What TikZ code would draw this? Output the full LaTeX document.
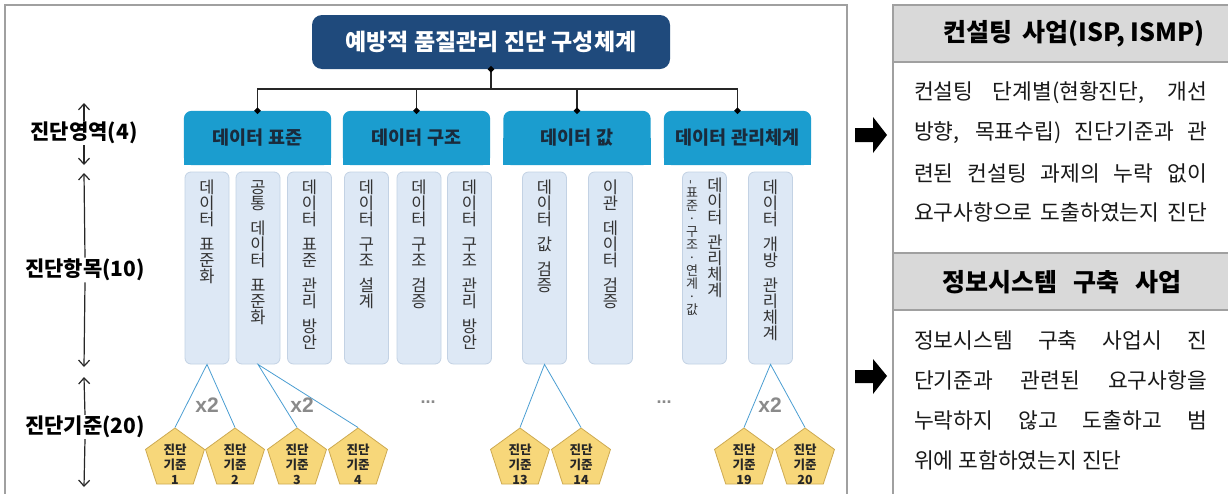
\documentclass[tikz,border=0pt]{standalone}
\usepackage{fontspec}
\setmainfont{Noto Sans CJK KR}
\newfontfamily\arialfont{Liberation Sans}
\usetikzlibrary{shapes.geometric,backgrounds,arrows.meta}
\definecolor{navy}{HTML}{1F4A7C}
\definecolor{catblue}{HTML}{1B9DCF}
\definecolor{cattext}{HTML}{1A2B3C}
\definecolor{itemfill}{HTML}{DDE8F5}
\definecolor{itemdraw}{HTML}{C3D2E4}
\definecolor{penta}{HTML}{F7D77A}
\definecolor{pentadraw}{HTML}{CDAA52}
\definecolor{linkblue}{HTML}{4A9ED2}
\definecolor{framegray}{HTML}{A0A0A0}
\definecolor{headgray}{HTML}{D9D9D9}
\definecolor{txt}{HTML}{333333}
\definecolor{xgray}{HTML}{8A8A8A}
\newcommand{\sg}{9pt}
\begin{document}
\begin{tikzpicture}[x=1pt,y=-1pt,
  titlebox/.style={fill=navy, rounded corners=10pt, text=white, font=\fontsize{23}{26}\selectfont\bfseries, minimum width=358pt, minimum height=54pt, inner sep=0pt},
  catbox/.style={minimum width=147pt, minimum height=54pt, inner sep=0pt, font=\fontsize{18.5}{22}\selectfont\bfseries, text=cattext},
  itembox/.style={fill=itemfill, draw=itemdraw, line width=0.8pt, rounded corners=6pt, minimum width=44pt, minimum height=192pt, inner sep=0pt},
  itemtext/.style={anchor=north, align=center, inner sep=0pt, font=\fontsize{16.5}{16}\selectfont, text=txt},
  itemtextb/.style={anchor=north, align=center, inner sep=0pt, font=\fontsize{13}{13}\selectfont, text=txt},
  pentagon/.style={regular polygon, regular polygon sides=5, minimum size=62pt, inner sep=0pt, fill=penta, draw=pentadraw, line width=0.8pt},
  ptext/.style={align=center, font=\fontsize{12.5}{15}\selectfont\bfseries, text=black!85, inner sep=0pt},
  sidelabel/.style={font=\fontsize{21}{24}\selectfont\bfseries, fill=white, inner sep=1pt},
  xtwo/.style={font=\arialfont\fontsize{21}{24}\selectfont\bfseries, text=xgray, inner sep=0pt},
  dots/.style={font=\arialfont\fontsize{18}{20}\selectfont\bfseries, text=xgray, inner sep=0pt},
  conn/.style={draw=black!85, line width=1.6pt},
  dot/.style={diamond, fill=black, inner sep=0pt, minimum size=7pt},
  link/.style={draw=linkblue, line width=0.8pt},
  vline/.style={draw=black!85, line width=1.2pt, arrows={-Straight Barb[length=6pt,width=11pt]}},
  frame/.style={draw=framegray, line width=1.5pt},
  headbox/.style={fill=headgray, draw=framegray, line width=1.2pt, minimum width=347pt, minimum height=57pt, inner sep=0pt},
  headtext/.style={font=\fontsize{25}{28}\selectfont\bfseries, text=black, inner sep=0pt},
  bodyline/.style={font=\fontsize{21.5}{25}\selectfont, text=black!90, inner sep=0pt}
]
\useasboundingbox (0,0) rectangle (1228,493);

% left frame
\draw[frame] (5,500) -- (5,5) -- (847,5) -- (847,500);

% title
\node[titlebox] (title) at (491,42) {예방적 품질관리 진단 구성체계};

% categories
\node[catbox] (c1) at (257.5,138) {데이터 표준};
\node[catbox] (c2) at (416.5,138) {데이터 구조};
\node[catbox] (c3) at (577,138) {데이터 값};
\node[catbox] (c4) at (737.5,138) {데이터 관리체계};
\begin{scope}[on background layer]
\fill[white] (0,0) rectangle (1228,493);
\foreach \c in {c1,c2,c3,c4}{
  \fill[catblue, rounded corners=8pt] (\c.south west) rectangle (\c.north east);
  \fill[catblue] (\c.south west) rectangle (\c.east);
}
\end{scope}

% connectors
\coordinate (bus) at (491,89);
\draw[conn] (title.south) -- (bus);
\draw[conn] (c1.north) |- (bus) -| (c4.north);
\draw[conn] (c2.north) -- (c2.north |- bus);
\draw[conn] (c3.north) -- (c3.north |- bus);
\foreach \n in {title.south,c1.north,c2.north,c3.north,c4.north}
  \node[dot] at (\n) {};

% items
\node[itembox] (i1) at (207,268) {};
\node[itembox] (i2) at (258,268) {};
\node[itembox] (i3) at (309.5,268) {};
\node[itembox] (i4) at (366.5,268) {};
\node[itembox] (i5) at (419,268) {};
\node[itembox] (i6) at (469.5,268) {};
\node[itembox] (i7) at (544.5,268) {};
\node[itembox] (i8) at (610.5,268) {};
\node[itembox] (i9) at (704.5,268) {};
\node[itembox] (i10) at (770.5,268) {};

\node[itemtext] (t1) at (207,180) {데\\이\\터\\[\sg]표\\준\\화};
\node[itemtext] (t2) at (258,180) {공\\통\\[\sg]데\\이\\터\\[\sg]표\\준\\화};
\node[itemtext] (t3) at (309.5,180) {데\\이\\터\\[\sg]표\\준\\[\sg]관\\리\\[\sg]방\\안};
\node[itemtext] (t4) at (366.5,180) {데\\이\\터\\[\sg]구\\조\\[\sg]설\\계};
\node[itemtext] (t5) at (419,180) {데\\이\\터\\[\sg]구\\조\\[\sg]검\\증};
\node[itemtext] (t6) at (469.5,180) {데\\이\\터\\[\sg]구\\조\\[\sg]관\\리\\[\sg]방\\안};
\node[itemtext] (t7) at (544.5,180) {데\\이\\터\\[\sg]값\\[\sg]검\\증};
\node[itemtext] (t8) at (610.5,180) {이\\관\\[\sg]데\\이\\터\\[\sg]검\\증};
\node[itemtext] (t9b) at (715,178) {데\\이\\터\\[\sg]관\\리\\체\\계};
\node[itemtextb] (t9a) at (692,180) {\rotatebox{90}{-}\\표\\준\\·\\구\\조\\·\\연\\계\\·\\값};
\node[itemtext] (t10) at (770.5,180) {데\\이\\터\\[\sg]개\\방\\[\sg]관\\리\\체\\계};

% pentagons
\foreach \p/\x/\n in {p1/175/1,p2/235/2,p3/297/3,p4/358/4,p13/520/13,p14/581/14,p19/744/19,p20/805/20}{
  \node[pentagon] (\p) at (\x,459) {};
  \node[ptext] (\p t) at (\x,464) {진단\\기준\\\n};
}

% links
\draw[link] (p1.corner 1) -- (i1.south) -- (p2.corner 1);
\draw[link] (p3.corner 1) -- (i2.south) -- (p4.corner 1);
\draw[link] (p13.corner 1) -- (i7.south) -- (p14.corner 1);
\draw[link] (p19.corner 1) -- (i10.south) -- (p20.corner 1);

\node[xtwo] (x1) at (207,405) {x2};
\node[xtwo] (x2) at (302,405) {x2};
\node[xtwo] (x3) at (770,405) {x2};
\node[dots] (d1) at (428,402) {...};
\node[dots] (d2) at (664,402) {...};

% side labels
\node[sidelabel] (l1) at (84,133) {진단영역(4)};
\node[sidelabel] (l2) at (85,270) {진단항목(10)};
\node[sidelabel] (l3) at (85,427) {진단기준(20)};
\coordinate (a1) at (84,103);
\coordinate (a2) at (84,165);
\coordinate (a3) at (84,173);
\coordinate (a4) at (84,367);
\coordinate (a5) at (84,377);
\coordinate (a6) at (84,487);
\draw[vline] (l1.north) -- (a1);
\draw[vline] (l1.south) -- (a2);
\draw[vline] (l2.north) -- (a3);
\draw[vline] (l2.south) -- (a4);
\draw[vline] (l3.north) -- (a5);
\draw[vline] (l3.south) -- (a6);

% right panel
\node[headbox] (hb1) at (1066.5,33.5) {};
\node[headbox] (hb2) at (1066.5,281.5) {};
\draw[frame] (893,500) -- (893,5);
\node[headtext] (h1) at (1074,34) {컨설팅\hspace{10pt}사업(ISP, ISMP)};
\node[headtext] (h2) at (1062,282) {정보시스템\hspace{16pt}구축\hspace{16pt}사업};

\node[bodyline] (b1) at (1060.5,93) {\makebox[293pt][s]{컨설팅 단계별(현황진단, 개선}};
\node[bodyline] (b2) at (1060.5,133) {\makebox[293pt][s]{방향, 목표수립) 진단기준과 관}};
\node[bodyline] (b3) at (1060.5,173) {\makebox[293pt][s]{련된 컨설팅 과제의 누락 없이}};
\node[bodyline] (b4) at (1060.5,212) {\makebox[293pt][s]{요구사항으로 도출하였는지 진단}};
\node[bodyline] (b5) at (1060.5,340) {\makebox[293pt][s]{정보시스템 구축 사업시 진}};
\node[bodyline] (b6) at (1060.5,380) {\makebox[293pt][s]{단기준과 관련된 요구사항을}};
\node[bodyline] (b7) at (1060.5,420) {\makebox[293pt][s]{누락하지 않고 도출하고 범}};
\node[bodyline, anchor=west] (b8) at (914,460) {위에 포함하였는지 진단};

% block arrows
\fill (855,128) -- (873,128) -- (873,117) -- (887,135) -- (873,153) -- (873,142) -- (855,142) -- cycle;
\fill (855,370) -- (873,370) -- (873,359) -- (887,376) -- (873,394) -- (873,383) -- (855,383) -- cycle;
\end{tikzpicture}
\end{document}
